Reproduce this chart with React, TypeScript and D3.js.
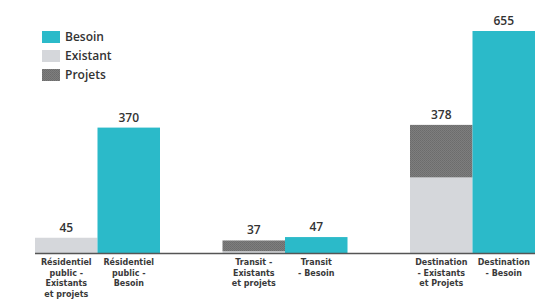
import React, { useEffect, useRef } from 'react';
import * as d3 from 'd3';

const groups = ['Résidentiel public', 'Transit', 'Destination'];
const existant = [45, 5, 223];
const projets = [0, 32, 155];
const besoin = [370, 47, 655];
const existLabels = [
  ['Résidentiel', 'public -', 'Existants', 'et projets'],
  ['Transit -', 'Existants', 'et projets'],
  ['Destination', '- Existants', 'et Projets'],
];
const besoinLabels = [
  ['Résidentiel', 'public -', 'Besoin'],
  ['Transit', '- Besoin'],
  ['Destination', '- Besoin'],
];
const legendItems = ['Besoin', 'Existant', 'Projets'];

const W = 536;
const H = 300;
const TEAL = '#2bbac9';
const LIGHT = '#d5d7db';
const FONT = "'Open Sans', 'DejaVu Sans', sans-serif";
const LABEL_FONT = "'DejaVu Sans', sans-serif";

const App: React.FC = () => {
  const svgRef = useRef<SVGSVGElement | null>(null);

  useEffect(() => {
    const svg = d3.select(svgRef.current);
    svg.selectAll('*').remove();

    // dotted dark pattern for "Projets"
    const defs = svg.append('defs');
    const pat = defs
      .append('pattern')
      .attr('id', 'hatch')
      .attr('width', 2)
      .attr('height', 2)
      .attr('patternUnits', 'userSpaceOnUse');
    pat.append('rect').attr('width', 2).attr('height', 2).attr('fill', '#7e7e7e');
    pat.append('rect').attr('width', 1).attr('height', 1).attr('fill', '#6c6c6c');
    pat.append('rect').attr('x', 1).attr('y', 1).attr('width', 1).attr('height', 1).attr('fill', '#707070');

    const x0 = d3.scaleBand<string>().domain(groups).range([35, 535]).paddingInner(1 / 3).paddingOuter(0);
    const x1 = d3.scaleBand<string>().domain(['exist', 'besoin']).range([0, x0.bandwidth()]);
    const y = d3.scaleLinear().domain([0, 655]).range([253, 31]);

    const g = svg.append('g');

    groups.forEach((grp, i) => {
      const gx = x0(grp)!;
      const ex = gx + x1('exist')!;
      const bx = gx + x1('besoin')!;
      const bw = x1.bandwidth();

      // existant
      g.append('rect')
        .attr('x', ex)
        .attr('y', y(existant[i]))
        .attr('width', bw)
        .attr('height', y(0) - y(existant[i]))
        .attr('fill', LIGHT);
      // projets stacked on top
      if (projets[i] > 0) {
        g.append('rect')
          .attr('x', ex)
          .attr('y', y(existant[i] + projets[i]))
          .attr('width', bw)
          .attr('height', y(existant[i]) - y(existant[i] + projets[i]))
          .attr('fill', 'url(#hatch)');
      }
      // besoin
      g.append('rect')
        .attr('x', bx)
        .attr('y', y(besoin[i]))
        .attr('width', bw)
        .attr('height', y(0) - y(besoin[i]))
        .attr('fill', TEAL);

      // value labels
      const tot = existant[i] + projets[i];
      [
        [ex, tot],
        [bx, besoin[i]],
      ].forEach(([px, v]) => {
        g.append('text')
          .attr('x', px + bw / 2)
          .attr('y', y(v) - 6)
          .attr('text-anchor', 'middle')
          .attr('font-size', 12)
          .attr('font-weight', 600)
          .attr('font-family', FONT)
          .attr('fill', '#333')
          .text(v);
      });

      // category labels, one text per line
      const addLabel = (cx: number, lines: string[]) => {
        lines.forEach((l, k) => {
          g.append('text')
            .attr('x', cx)
            .attr('y', 265 + k * 10.5)
            .attr('text-anchor', 'middle')
            .attr('font-size', 8)
            .attr('font-weight', 700)
            .attr('font-family', LABEL_FONT)
            .attr('fill', '#3a3a3a')
            .text(l);
        });
      };
      addLabel(ex + bw / 2, existLabels[i]);
      addLabel(bx + bw / 2, besoinLabels[i]);
    });

    // axis line
    g.append('line')
      .attr('x1', 35)
      .attr('x2', 535)
      .attr('y1', y(0) + 0.5)
      .attr('y2', y(0) + 0.5)
      .attr('stroke', '#555')
      .attr('stroke-width', 1.5);

    // legend
    const legColors = [TEAL, LIGHT, 'url(#hatch)'];
    legendItems.forEach((name, i) => {
      const ly = 31 + i * 19;
      svg.append('rect').attr('x', 42).attr('y', ly).attr('width', 18).attr('height', 12).attr('fill', legColors[i]);
      svg
        .append('text')
        .attr('x', 65)
        .attr('y', ly + 10)
        .attr('font-size', 12)
        .attr('font-weight', 600)
        .attr('font-family', FONT)
        .attr('fill', '#333')
        .text(name);
    });
  }, []);

  return (
    <svg
      ref={svgRef}
      width={W}
      height={H}
      style={{ position: 'absolute', left: 0, top: 0, background: '#fff' }}
    ></svg>
  );
};

export default App;
